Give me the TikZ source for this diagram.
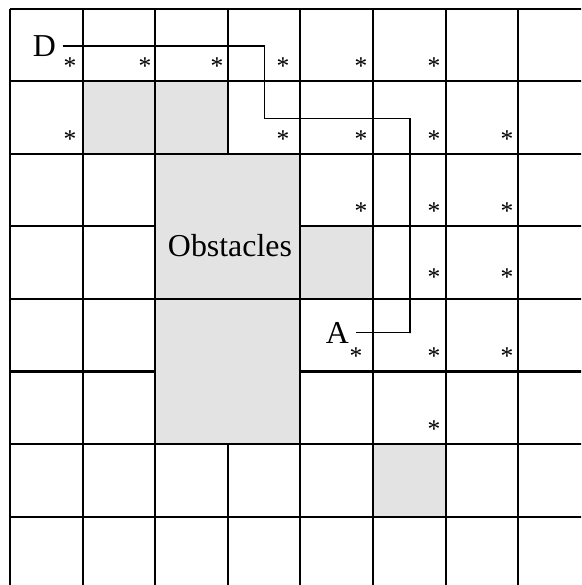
\documentclass[tikz,border=0pt]{standalone}
\usepackage{fontspec}
\setmainfont{Liberation Serif}
\usepackage{xcolor}
\usepackage{tikz}
\definecolor{obstgray}{RGB}{227,227,227}

\begin{document}
\begin{tikzpicture}[every node/.style={font=\fontsize{12.5}{15}\selectfont},
  gridline/.style={line width=0.8pt,black},
  obstacle/.style={fill=obstgray,draw=black,line width=0.8pt},
  astx/.style={inner sep=0pt,yshift=-1pt,font=\fontsize{10}{12}\selectfont},
  waypt/.style={inner sep=2.4pt},
  route/.style={line width=0.5pt}]
  \useasboundingbox (-0.138,0.117) rectangle (7.865,-7.941);
  \clip (-0.138,0.117) rectangle (7.865,-7.941);
  \draw[gridline] (0,0) grid (8.5,-8.5);
  % grey cells
  \draw[obstacle] (1,-1) rectangle (2,-2);
  \draw[obstacle] (2,-1) rectangle (3,-2);
  \draw[obstacle] (2,-2) rectangle (4,-4);
  \draw[obstacle] (2,-4) rectangle (4,-6);
  \draw[obstacle] (4,-3) rectangle (5,-4);
  \draw[obstacle] (5,-6) rectangle (6,-7);
  \node (obs) at (3.03,-3.27) {Obstacles};
  \node[waypt] (D) at (0.475,-0.517) {D};
  \node[waypt] (A) at (4.511,-4.463) {A};
  \coordinate (t1) at (3.51,-1.515);
  \coordinate (t2) at (5.51,-4.47);
  \draw[route] (D.east) -| (t1) -| (t2) |- (A.east);
  % visited cells
  \foreach \x/\y [count=\i] in {0.826/-0.764, 1.860/-0.764, 2.851/-0.764,
      3.760/-0.764, 4.835/-0.764, 5.840/-0.764,
      0.826/-1.770, 3.760/-1.770, 4.835/-1.770, 5.840/-1.770, 6.846/-1.770,
      4.835/-2.760, 5.840/-2.760, 6.846/-2.760,
      5.840/-3.670, 6.846/-3.670,
      4.766/-4.759, 5.840/-4.759, 6.846/-4.759,
      5.840/-5.764}
    \node[astx] (s\i) at (\x,\y) {*};
\end{tikzpicture}
\end{document}
